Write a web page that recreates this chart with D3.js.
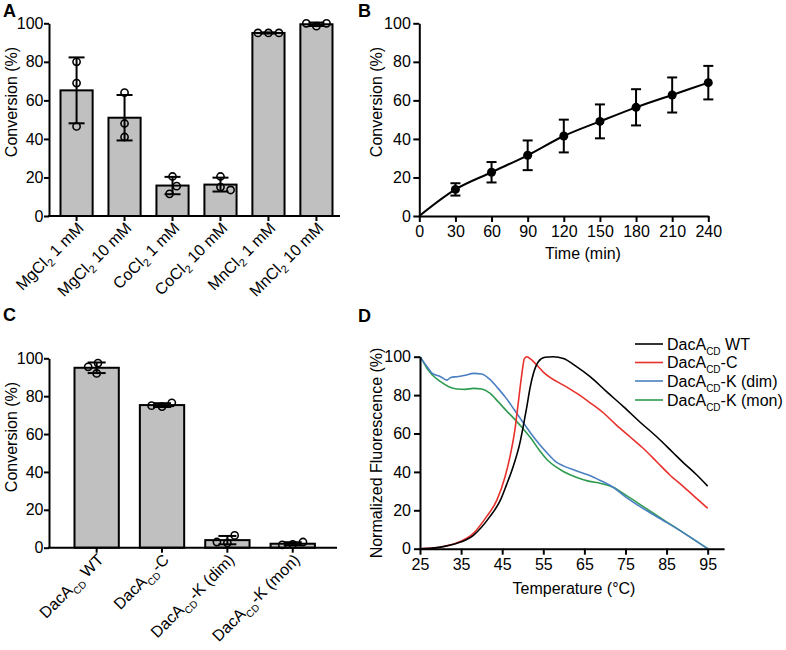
<!DOCTYPE html>
<html><head><meta charset="utf-8">
<script src="https://cdn.jsdelivr.net/npm/d3@7/dist/d3.min.js"></script>
<style>
body{margin:0;background:#fff}
svg text{font-family:"Liberation Sans",Arial,Helvetica,sans-serif;fill:#000}
</style>
</head><body>
<svg id="chart" width="786" height="650"></svg>
<script>
// ---------------- DATA ----------------
const metalCategories = ["MgCl_{2} 1 mM","MgCl_{2} 10 mM","CoCl_{2} 1 mM","CoCl_{2} 10 mM","MnCl_{2} 1 mM","MnCl_{2} 10 mM"];
const metalMeans = [65.2, 51, 15.8, 16.3, 95, 99.5];
const metalSD = [17.1, 11.8, 4.5, 3.6, 0.3, 0.9];
const metalReplicates = [[80, 69, 46.5], [64, 48, 41], [20.5, 15.5, 11.5], [20.5, 15, 13.5], [95, 95, 95], [98.5, 100, 100]];
const conversionTicks = [0, 20, 40, 60, 80, 100];

const timePoints = [30, 60, 90, 120, 150, 180, 210, 240];
const timeMeans = [13.8, 22.7, 31.5, 41.5, 49.1, 56.4, 62.8, 69.2];
const timeSD = [3.2, 5.3, 7.7, 8.5, 8.8, 9.4, 9.1, 8.7];
const timeTicks = [0, 30, 60, 90, 120, 150, 180, 210, 240];
const fitOrigin = [0, 0];

const variantCategories = ["DacA_{CD} WT", "DacA_{CD}-C", "DacA_{CD}-K (dim)", "DacA_{CD}-K (mon)"];
const variantMeans = [95, 75.3, 4, 2.1];
const variantSD = [2.8, 1.0, 2.2, 0.8];
const variantReplicates = [[92, 97.5, 95.5], [74.5, 76.5, 75], [2.5, 6.5, 3], [1.8, 3, 1.5]];

const meltSeriesNames = ["DacA_{CD} WT", "DacA_{CD}-C", "DacA_{CD}-K (dim)", "DacA_{CD}-K (mon)"];
const meltColors = ["#000000", "#e8302c", "#4a7fc1", "#2e9b50"];
const meltTempWT = [25, 28, 31, 34, 38, 42, 44.5, 46, 47.7, 49.3, 50.1, 51, 51.8, 52.7, 53.8, 55.4, 57.4, 59.9, 63, 66.4, 70.4, 74.5, 78.5, 82.6, 86.6, 89, 92.3, 95];
const meltValWT  = [0, 0.3, 1.2, 2.8, 7, 16.7, 25, 33, 43, 55, 63.5, 74, 84, 92, 97.4, 99.7, 100, 99, 95, 89.6, 81.8, 74, 66, 58.3, 50, 45, 38.5, 32.6];
const meltTempC  = [25, 28, 31, 33.9, 38, 41.2, 43.7, 45.7, 46.9, 48.1, 48.9, 49.7, 50.4, 51, 51.8, 53.4, 55, 57, 59.9, 63.1, 66.4, 69.6, 72.8, 76.1, 79.3, 82.6, 85.8, 89.1, 92.3, 95];
const meltValC   = [0, 0.3, 1.3, 3, 8, 16.7, 25.3, 37.5, 48, 62, 75.7, 89.6, 99, 100, 99, 95.7, 92, 88.7, 85.2, 81, 76, 70.8, 64.4, 58.3, 52.3, 45.3, 38.4, 32.3, 26.2, 21];
const meltTempKdim = [25, 26, 27, 28, 30, 31.5, 32.5, 34, 36, 38, 40, 42, 44, 46, 48, 50, 52, 54, 56, 58, 60, 63, 66, 69, 72, 75, 80, 85, 90, 95];
const meltValKdim  = [100, 96.9, 94, 91.3, 89.6, 87.8, 89.2, 89.6, 90.3, 91.3, 91, 88.2, 83.5, 78.3, 72.2, 66, 60, 54.5, 49.7, 45.3, 43, 40.6, 38.4, 35.4, 32, 27, 20, 13.7, 7.1, 0];
const meltTempKmon = [25, 26, 27, 28, 30, 32, 34, 36, 38, 40, 42, 44, 46, 48, 50, 52, 54, 56, 58, 60, 63, 66, 69, 72, 75, 80, 85, 90, 95];
const meltValKmon  = [100, 96.5, 93, 90.5, 87, 84.4, 83.2, 83, 83.5, 83.2, 81, 76.6, 71.9, 67.5, 62.7, 57.5, 51.4, 46.2, 42.7, 40.1, 37.2, 35.2, 34, 32, 28, 21, 14, 7.1, 0];
const tempTicks = [25, 35, 45, 55, 65, 75, 85, 95];

// ---------------- HELPERS ----------------
const svg = d3.select("#chart");
svg.append("rect").attr("width", 786).attr("height", 650).attr("fill", "#fff");
const FS = 16;

function richText(sel, label, subSize, subDy) {
  const parts = label.split(/(_\{[^}]*\})/).filter(s => s.length);
  let shifted = false;
  parts.forEach(p => {
    if (p.startsWith("_{")) {
      sel.append("tspan").attr("font-size", subSize).attr("dy", subDy).text(p.slice(2, -1));
      shifted = true;
    } else {
      const t = sel.append("tspan").text(p);
      if (shifted) { t.attr("dy", -subDy); shifted = false; }
    }
  });
}

function styleAxis(g) {
  g.selectAll("path.domain").attr("stroke", "#000").attr("stroke-width", 2);
  g.selectAll(".tick line").attr("stroke", "#000").attr("stroke-width", 2);
  g.selectAll(".tick text").attr("font-size", FS).attr("fill", "#000")
    .attr("font-family", '"Liberation Sans",Arial,sans-serif');
}

function swarm(vals, yScale, D) {
  const placed = [];
  vals.forEach(v => {
    const y = yScale(v);
    const cands = [0];
    placed.forEach(p => {
      const dy = Math.abs(p.y - y);
      if (dy < D) { const dx = Math.sqrt(D * D - dy * dy); cands.push(p.x + dx, p.x - dx); }
    });
    cands.sort((a, b) => (Math.abs(a) - Math.abs(b)) || (b - a));
    const x = cands.find(c => placed.every(p => Math.hypot(p.x - c, p.y - y) >= D - 1e-6));
    placed.push({ x: x, y: y, v: v });
  });
  return placed;
}

function panelLetter(txt, x, y) {
  svg.append("text").attr("x", x).attr("y", y).attr("font-size", 18).attr("font-weight", "bold").text(txt);
}

function yTitle(txt, x, y) {
  svg.append("text").attr("transform", `translate(${x},${y}) rotate(-90)`)
    .attr("text-anchor", "middle").attr("font-size", FS).text(txt);
}

// ---------------- BAR PANEL ----------------
function barPanel(o) {
  const g = svg.append("g");
  const x = d3.scaleBand().domain(o.cats).range([o.bandStart, o.bandEnd]).paddingInner(o.padInner).paddingOuter(0);
  const y = d3.scaleLinear().domain([0, 100]).range([o.bottom, o.top]);
  const bw = x.bandwidth();

  g.selectAll("rect.bar").data(o.cats).join("rect").attr("class", "bar")
    .attr("x", d => x(d)).attr("y", (d, i) => y(o.means[i]))
    .attr("width", bw).attr("height", (d, i) => y(0) - y(o.means[i]))
    .attr("fill", "#c0c0c0").attr("stroke", "#000").attr("stroke-width", 2);

  // error bars
  o.cats.forEach((c, i) => {
    const cx = x(c) + bw / 2;
    const lo = y(Math.max(0, o.means[i] - o.sds[i])), hi = y(o.means[i] + o.sds[i]);
    g.append("line").attr("x1", cx).attr("x2", cx).attr("y1", lo).attr("y2", hi).attr("stroke", "#000").attr("stroke-width", 2);
    [lo, hi].forEach(yy => g.append("line").attr("x1", cx - o.cap).attr("x2", cx + o.cap).attr("y1", yy).attr("y2", yy)
      .attr("stroke", "#000").attr("stroke-width", 2));
    const pts = swarm(o.reps[i], y, 10.5);
    g.selectAll(null).data(pts).join("circle")
      .attr("cx", p => cx + p.x).attr("cy", p => p.y).attr("r", 3.6)
      .attr("fill", "none").attr("stroke", "#000").attr("stroke-width", 1.6);
  });

  // axes
  const ya = g.append("g").attr("transform", `translate(${o.left},0)`)
    .call(d3.axisLeft(y).tickValues(conversionTicks).tickSize(5).tickPadding(0.5).tickSizeOuter(0));
  styleAxis(ya);
  const xa = g.append("g").attr("transform", `translate(0,${o.bottom})`)
    .call(d3.axisBottom(x).tickSize(5).tickFormat(""));
  xa.select("path.domain").remove();
  styleAxis(xa);
  g.append("line").attr("x1", o.left - 1).attr("x2", o.right).attr("y1", o.bottom).attr("y2", o.bottom)
    .attr("stroke", "#000").attr("stroke-width", 2);

  o.cats.forEach(c => {
    const cx = x(c) + bw / 2;
    const t = g.append("text").attr("text-anchor", "end").attr("font-size", FS)
      .attr("transform", `translate(${cx + o.lblDx},${o.bottom + o.lblDy}) rotate(-45)`);
    richText(t, c, o.subSize, o.subDy);
  });
}

// Panel A
barPanel({
  cats: metalCategories, means: metalMeans, sds: metalSD, reps: metalReplicates,
  left: 49, right: 340, top: 23.3, bottom: 216,
  bandStart: 60.5, bandEnd: 332.5, padInner: 0.33, cap: 8,
  lblDx: 8, lblDy: 13, subSize: 11, subDy: 4
});
panelLetter("A", 3, 17);
yTitle("Conversion (%)", 17, 102);

// Panel C
barPanel({
  cats: variantCategories, means: variantMeans, sds: variantSD, reps: variantReplicates,
  left: 49, right: 337, top: 358.3, bottom: 547.7,
  bandStart: 74.5, bandEnd: 314.9, padInner: 0.322, cap: 9,
  lblDx: 8, lblDy: 13, subSize: 10, subDy: 5
});
panelLetter("C", 3, 321);
yTitle("Conversion (%)", 17, 437);

// ---------------- PANEL B ----------------
(function () {
  const g = svg.append("g");
  const x = d3.scaleLinear().domain([0, 240]).range([419.3, 708.3]);
  const y = d3.scaleLinear().domain([0, 100]).range([216, 23.3]);
  const curvePts = [fitOrigin].concat(timePoints.map((t, i) => [t, timeMeans[i]]));
  g.append("path").datum(curvePts)
    .attr("d", d3.line().x(d => x(d[0])).y(d => y(d[1])).curve(d3.curveMonotoneX))
    .attr("fill", "none").attr("stroke", "#000").attr("stroke-width", 2);
  timePoints.forEach((t, i) => {
    const cx = x(t), lo = y(timeMeans[i] - timeSD[i]), hi = y(timeMeans[i] + timeSD[i]);
    g.append("line").attr("x1", cx).attr("x2", cx).attr("y1", lo).attr("y2", hi).attr("stroke", "#000").attr("stroke-width", 2);
    [lo, hi].forEach(yy => g.append("line").attr("x1", cx - 5).attr("x2", cx + 5).attr("y1", yy).attr("y2", yy)
      .attr("stroke", "#000").attr("stroke-width", 2));
    g.append("circle").attr("cx", cx).attr("cy", y(timeMeans[i])).attr("r", 4.5).attr("fill", "#000");
  });
  const ya = g.append("g").attr("transform", "translate(419.3,0)")
    .call(d3.axisLeft(y).tickValues(conversionTicks).tickSize(6).tickPadding(2.5).tickSizeOuter(0));
  styleAxis(ya);
  const xa = g.append("g").attr("transform", "translate(0,216)")
    .call(d3.axisBottom(x).tickValues(timeTicks).tickSize(6).tickPadding(4).tickSizeOuter(0));
  styleAxis(xa);
  g.append("text").attr("x", 583).attr("y", 259).attr("text-anchor", "middle").attr("font-size", FS).text("Time (min)");
})();
panelLetter("B", 358, 17);
yTitle("Conversion (%)", 382, 102);

// ---------------- PANEL D ----------------
(function () {
  const g = svg.append("g");
  const x = d3.scaleLinear().domain([25, 99]).range([420, 724.1]);
  const y = d3.scaleLinear().domain([0, 100]).range([548.7, 356.7]);
  const series = [
    [meltTempWT, meltValWT], [meltTempC, meltValC], [meltTempKdim, meltValKdim], [meltTempKmon, meltValKmon]
  ];
  const line = d3.line().x(d => x(d[0])).y(d => y(d[1])).curve(d3.curveMonotoneX);
  [3, 2, 1, 0].forEach(k => {
    const pts = series[k][0].map((t, i) => [t, series[k][1][i]]);
    g.append("path").datum(pts).attr("d", line).attr("fill", "none")
      .attr("stroke", meltColors[k]).attr("stroke-width", 1.6);
  });
  const ya = g.append("g").attr("transform", "translate(420,0)")
    .call(d3.axisLeft(y).tickValues(conversionTicks).tickSize(6).tickPadding(3).tickSizeOuter(0));
  styleAxis(ya);
  const xa = g.append("g").attr("transform", "translate(0,548.7)")
    .call(d3.axisBottom(x).tickValues(tempTicks).tickSize(6).tickPadding(3.5).tickSizeOuter(0));
  styleAxis(xa);
  g.append("text").attr("x", 574).attr("y", 593.5).attr("text-anchor", "middle").attr("font-size", FS).text("Temperature (°C)");

  // legend
  const ly = [344, 362.5, 381, 400];
  meltSeriesNames.forEach((n, k) => {
    g.append("line").attr("x1", 635).attr("x2", 663).attr("y1", ly[k]).attr("y2", ly[k])
      .attr("stroke", meltColors[k]).attr("stroke-width", 1.6);
    const t = g.append("text").attr("x", 667).attr("y", ly[k] + 5.5).attr("font-size", FS);
    richText(t, n, 10, 5);
  });
})();
panelLetter("D", 358, 322);
yTitle("Normalized Fluorescence (%)", 382, 453);
</script>
</body></html>
